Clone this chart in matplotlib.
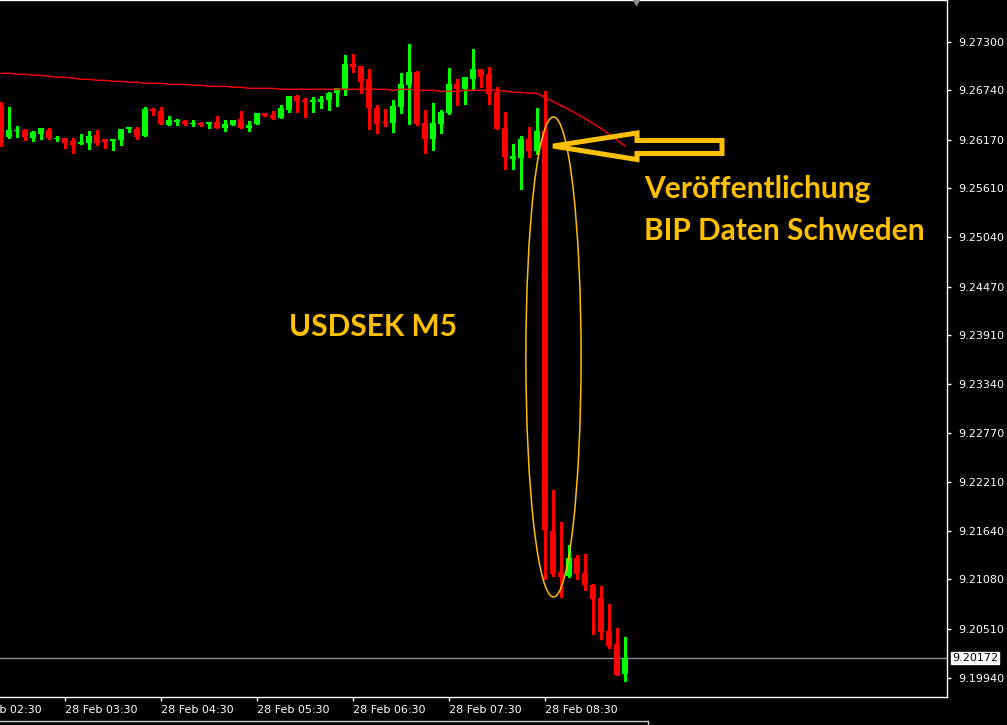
"""USDSEK M5 candles around the Swedish GDP release (MT4 style)."""

import matplotlib
matplotlib.use("Agg")
import matplotlib.pyplot as plt
import numpy as np
import pandas as pd
from matplotlib.lines import Line2D
from matplotlib.patches import Ellipse, Polygon

# 5-minute bars on 28 Feb, first visible bar opens 02:50
start_time = "2018-02-28 02:50"

opens = [
    9.26559, 9.26200, 9.26275, 9.26281, 9.26188, 9.26235, 9.26281, 9.26183, 9.26188, 9.26154,
    9.26119, 9.26130, 9.26223, 9.26177, 9.26154, 9.26165, 9.26293, 9.26293, 9.26212, 9.26525,
    9.26501, 9.26339, 9.26374, 9.26386, 9.26356, 9.26362, 9.26351, 9.26374, 9.26304, 9.26339,
    9.26409, 9.26304, 9.26351, 9.26478, 9.26455, 9.26420, 9.26513, 9.26675, 9.26629, 9.26606,
    9.26606, 9.26629, 9.26710, 9.26756, 9.27046, 9.27022, 9.26872, 9.26536, 9.26368, 9.26362,
    9.26548, 9.26803, 9.26953, 9.26362, 9.26177, 9.26351, 9.26478, 9.26814, 9.26756, 9.26872,
    9.26988, 9.26930, 9.26722, 9.26304, 9.25945, 9.25957, 9.26177, 9.26038, 9.26270, 9.21641,
    9.21167, 9.21121, 9.21329, 9.21155, 9.21016, 9.20866, 9.20484, 9.20333, 9.19987,
]
highs = [
    9.26606, 9.26548, 9.26328, 9.26293, 9.26270, 9.26304, 9.26304, 9.26212, 9.26188, 9.26188,
    9.26235, 9.26270, 9.26281, 9.26177, 9.26177, 9.26293, 9.26316, 9.26316, 9.26548, 9.26536,
    9.26548, 9.26444, 9.26409, 9.26397, 9.26397, 9.26374, 9.26374, 9.26444, 9.26397, 9.26397,
    9.26501, 9.26386, 9.26478, 9.26478, 9.26501, 9.26571, 9.26675, 9.26687, 9.26652, 9.26664,
    9.26675, 9.26722, 9.26768, 9.27150, 9.27161, 9.27022, 9.26988, 9.26571, 9.26525, 9.26629,
    9.26941, 9.27277, 9.26965, 9.26513, 9.26594, 9.26513, 9.26999, 9.26872, 9.26895, 9.27219,
    9.26988, 9.27011, 9.26779, 9.26490, 9.26119, 9.26212, 9.26316, 9.26536, 9.26733, 9.22116,
    9.21745, 9.21479, 9.21364, 9.21375, 9.21028, 9.21005, 9.20796, 9.20519, 9.20415,
]
lows = [
    9.26096, 9.26188, 9.26200, 9.26165, 9.26154, 9.26177, 9.26177, 9.26154, 9.26072, 9.26014,
    9.26119, 9.26061, 9.26107, 9.26072, 9.26049, 9.26107, 9.26258, 9.26177, 9.26212, 9.26455,
    9.26351, 9.26339, 9.26339, 9.26339, 9.26328, 9.26328, 9.26304, 9.26304, 9.26270, 9.26339,
    9.26304, 9.26270, 9.26351, 9.26444, 9.26409, 9.26420, 9.26490, 9.26490, 9.26432, 9.26490,
    9.26536, 9.26513, 9.26559, 9.26687, 9.26953, 9.26710, 9.26293, 9.26246, 9.26328, 9.26258,
    9.26478, 9.26351, 9.26339, 9.26014, 9.26049, 9.26246, 9.26467, 9.26571, 9.26583, 9.26745,
    9.26779, 9.26583, 9.26293, 9.25829, 9.25829, 9.25598, 9.25968, 9.26003, 9.21086, 9.21121,
    9.20878, 9.21109, 9.21086, 9.20958, 9.20450, 9.20392, 9.20287, 9.19975, 9.19905,
]
closes = [
    9.26188, 9.26281, 9.26287, 9.26200, 9.26258, 9.26304, 9.26188, 9.26188, 9.26130, 9.26107,
    9.26142, 9.26212, 9.26130, 9.26142, 9.26177, 9.26293, 9.26316, 9.26200, 9.26525, 9.26501,
    9.26351, 9.26397, 9.26397, 9.26351, 9.26362, 9.26339, 9.26374, 9.26304, 9.26351, 9.26397,
    9.26304, 9.26339, 9.26478, 9.26444, 9.26420, 9.26536, 9.26675, 9.26617, 9.26606, 9.26629,
    9.26641, 9.26710, 9.26768, 9.27046, 9.27011, 9.26837, 9.26536, 9.26351, 9.26362, 9.26559,
    9.26814, 9.26953, 9.26351, 9.26177, 9.26362, 9.26490, 9.26814, 9.26756, 9.26895, 9.26988,
    9.26895, 9.26698, 9.26293, 9.25968, 9.25980, 9.26177, 9.26038, 9.26270, 9.21653, 9.21144,
    9.21109, 9.21329, 9.21144, 9.21016, 9.20855, 9.20473, 9.20310, 9.19975, 9.20172,
]
# red moving average line
ma_values = [
    9.26938, 9.26938, 9.26926, 9.26926, 9.26915, 9.26915, 9.26903, 9.26891, 9.26891, 9.26883,
    9.26868, 9.26868, 9.26857, 9.26857, 9.26845, 9.26845, 9.26834, 9.26834, 9.26822, 9.26822,
    9.26822, 9.26810, 9.26810, 9.26810, 9.26799, 9.26799, 9.26787, 9.26787, 9.26787, 9.26776,
    9.26776, 9.26764, 9.26764, 9.26764, 9.26764, 9.26753, 9.26753, 9.26753, 9.26753, 9.26753,
    9.26753, 9.26753, 9.26753, 9.26753, 9.26753, 9.26753, 9.26753, 9.26753, 9.26753, 9.26741,
    9.26753, 9.26753, 9.26741, 9.26741, 9.26741, 9.26729, 9.26729, 9.26729, 9.26741, 9.26741,
    9.26741, 9.26741, 9.26741, 9.26733, 9.26718, 9.26718, 9.26706, 9.26706, 9.26658, 9.26611,
    9.26565, 9.26519, 9.26467, 9.26415, 9.26357, 9.26299, 9.26235, 9.26165, 9.26096,
]
last_price = 9.20172

price_ticks = [9.27300, 9.26740, 9.26170, 9.25610, 9.25040, 9.24470, 9.23910,
               9.23340, 9.22770, 9.22210, 9.21640, 9.21080, 9.20510, 9.19940]

BULL = "#00FF00"
BEAR = "#FF0000"
GOLD = "#FFC000"
FG = "white"


def main() -> None:
    o = np.array(opens)
    h = np.array(highs)
    lo = np.array(lows)
    c = np.array(closes)
    x = np.arange(len(o))
    times = pd.date_range(start_time, periods=len(o), freq="5min")

    fig = plt.figure(figsize=(10.07, 7.25), dpi=100, facecolor="black")
    ax = fig.add_axes([0, 28 / 725, 947 / 1007, 697 / 725], facecolor="black")

    # candles: 1px wick + 5px body
    up = c >= o
    colors = np.where(up, BULL, BEAR)
    ax.vlines(x, lo, h, colors=colors, linewidth=0.75, antialiased=False, zorder=2)
    min_body = 0.00009
    body = np.abs(c - o)
    bottom = np.where(body < min_body, (o + c) / 2 - min_body / 2, np.minimum(o, c))
    ax.bar(x, np.maximum(body, min_body), bottom=bottom, width=0.64,
           color=colors, linewidth=0, antialiased=False, zorder=3)

    ax.plot(x, ma_values, color=BEAR, linewidth=1, zorder=4)
    ax.axhline(last_price, color="#7F8C99", linewidth=1, zorder=1)

    # annotations
    ax.add_patch(Ellipse((69.06, 9.23655), 6.9, 0.05555, fill=False,
                         edgecolor=GOLD, linewidth=1.1, zorder=5))
    arrow = [(69.0, 9.26096), (79.5, 9.26247), (79.5, 9.26160), (90.125, 9.26160),
             (90.125, 9.26010), (79.5, 9.26010), (79.5, 9.25940)]
    ax.add_patch(Polygon(arrow, closed=True, fill=False, edgecolor=GOLD,
                         linewidth=3.6, joinstyle="miter", zorder=6))
    txt = dict(color=GOLD, fontsize=21.5, fontweight="bold", family="Lato",
               ha="left", va="center", zorder=7)
    ax.text(80.4, 9.25600, "Veröffentlichung", **txt)
    ax.text(80.4, 9.25113, "BIP Daten Schweden", **txt)
    ax.text(36.0, 9.24002, "USDSEK M5", **txt)

    ax.set_xlim(-0.125, 118.25)
    ax.set_ylim(9.19720, 9.27786)

    # time axis: hourly marks at hh:30
    hours = pd.date_range("2018-02-28 02:30", "2018-02-28 08:30", freq="h")
    hour_idx = [(t - times[0]) / pd.Timedelta("5min") for t in hours]
    ax.set_xticks([i for i in hour_idx if i >= 0])
    ax.set_xticklabels([])
    for i, t in zip(hour_idx, hours):
        ax.annotate(t.strftime("%d %b %H:%M"), xy=(i, 0), xycoords=("data", "axes fraction"),
                    xytext=(0, -13), textcoords="offset pixels", ha="left", va="center",
                    color=FG, fontsize=8, annotation_clip=False)

    ax.yaxis.tick_right()
    ax.set_yticks(price_ticks)
    ax.set_yticklabels([f"{p:.5f}" for p in price_ticks])
    ax.tick_params(axis="both", colors=FG, length=3, width=1, labelsize=8)
    ax.tick_params(axis="y", pad=5)

    for side in ("right", "bottom", "top"):
        ax.spines[side].set_color(FG)
        ax.spines[side].set_linewidth(1)
    ax.spines["left"].set_visible(False)

    ax.annotate(f"{last_price:.5f}", xy=(1, last_price), xycoords=("axes fraction", "data"),
                xytext=(5, 0), textcoords="offset pixels", ha="left", va="center",
                color="black", fontsize=8,
                bbox=dict(boxstyle="square,pad=0.12", fc="white", ec="white"))

    # chart shift marker at the top
    ax.plot([79.4], [1.0], marker="v", color="#8C8C8C", markersize=7,
            transform=ax.get_xaxis_transform(), clip_on=False, zorder=8)

    fig.add_artist(Line2D([0, 648 / 1007], [4 / 725, 4 / 725], color="#C8C8C8", linewidth=1))
    fig.add_artist(Line2D([648 / 1007, 648 / 1007], [0, 4 / 725], color="#C8C8C8", linewidth=1))

    fig.savefig("out.png", facecolor="black")
    plt.close(fig)


if __name__ == "__main__":
    main()
